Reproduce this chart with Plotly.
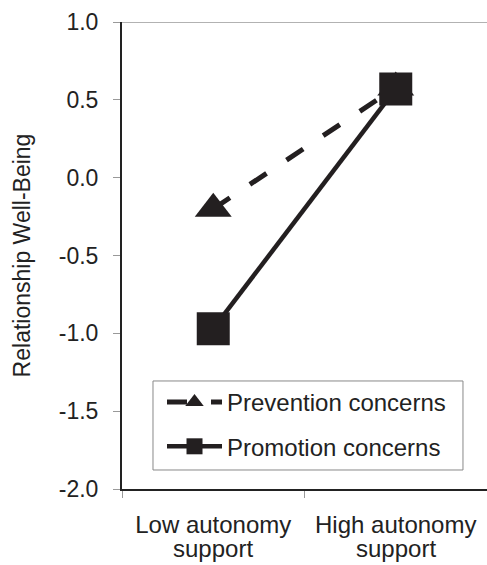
import plotly.graph_objects as go

categories = ["Low autonomy", "High autonomy"]
category_line2 = ["support", "support"]
prevention = [-0.20, 0.58]
promotion = [-0.97, 0.57]
y_ticks = [-2.0, -1.5, -1.0, -0.5, 0.0, 0.5, 1.0]
y_ticktext = ["-2.0", "-1.5", "-1.0", "-0.5", "0.0", "0.5", "1.0"]

FONT = "Liberation Sans, Arial, sans-serif"
INK = "#231f20"
TXT = "#222"

fig = go.Figure()
fig.add_trace(go.Scatter(
    x=categories, y=prevention, name="Prevention concerns", mode="lines+markers",
    line=dict(color=INK, width=5, dash="20px,24px"),
    marker=dict(symbol="triangle-up", size=32, color=INK),
    legendgroup="a",
))
fig.add_trace(go.Scatter(
    x=categories, y=promotion, name="Promotion concerns", mode="lines+markers",
    line=dict(color=INK, width=4.5),
    marker=dict(symbol="square", size=33, color=INK),
    legendgroup="b",
))

annotations = [
    dict(x=c, y=-0.1276, xref="x", yref="paper", text=t, showarrow=False,
         xanchor="center", yanchor="middle",
         font=dict(family=FONT, size=24, color=TXT))
    for c, t in zip(categories, category_line2)
]

fig.update_layout(
    width=487, height=565,
    margin=dict(l=122, r=0, t=22, b=76),
    paper_bgcolor="white", plot_bgcolor="white",
    font=dict(family=FONT, size=23, color=TXT),
    showlegend=True,
    legend=dict(
        x=0.1096, y=0.2334, xanchor="left", yanchor="top",
        borderwidth=0, bgcolor="rgba(0,0,0,0)",
        font=dict(family=FONT, size=24, color=TXT),
        tracegroupgap=10, itemwidth=55,
    ),
    xaxis=dict(
        type="category", range=[-0.5, 1.5], tickson="boundaries",
        automargin=False,
        showline=True, linecolor="#222", linewidth=1.5,
        ticks="outside", ticklen=7, tickcolor="#999", tickwidth=1,
        showgrid=False, zeroline=False,
        tickfont=dict(family=FONT, size=24, color=TXT),
        ticklabelstandoff=13,
    ),
    yaxis=dict(
        range=[-2, 1], tickvals=y_ticks, ticktext=y_ticktext,
        automargin=False,
        showline=True, linecolor="#222", linewidth=2,
        ticks="outside", ticklen=7, tickcolor="#999", tickwidth=1,
        showgrid=False, zeroline=False,
        tickfont=dict(family=FONT, size=23, color=TXT),
        ticklabelstandoff=10,
        title=dict(text="Relationship Well-Being", standoff=22,
                   font=dict(family=FONT, size=23, color=TXT)),
    ),
    annotations=annotations,
    shapes=[
        dict(type="line", xref="paper", yref="y", x0=-0.02, x1=1, y0=1, y1=1,
             line=dict(color="#999", width=1.5), layer="below"),
        dict(type="rect", xref="paper", yref="paper",
             x0=0.0849, x1=0.9342, y0=0.0407, y1=0.2313,
             line=dict(color="#888", width=1), fillcolor="white", layer="above"),
    ],
)

fig.write_html(
    "out.html",
    config={"displayModeBar": False},
    post_script="document.body.style.margin='0';document.body.style.padding='0';",
)
